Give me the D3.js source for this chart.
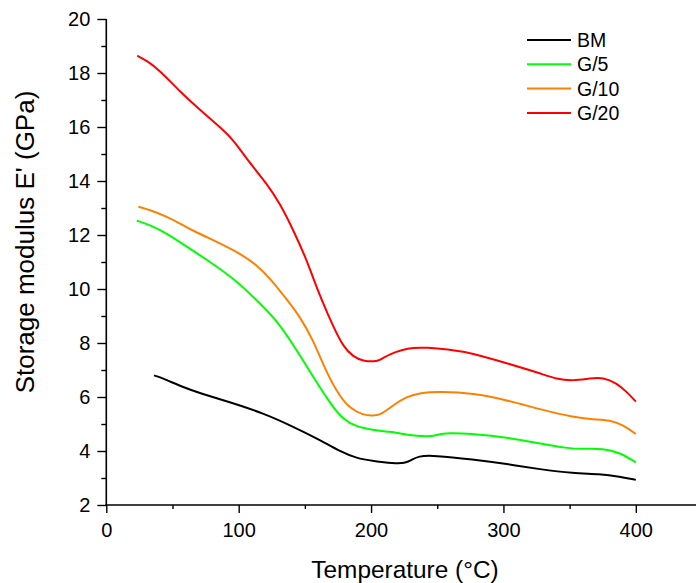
<!DOCTYPE html>
<html>
<head>
<meta charset="utf-8">
<script src="https://cdn.jsdelivr.net/npm/d3@7/dist/d3.min.js"></script>
<style>
html,body{margin:0;padding:0;background:#fff;}
svg{display:block;}
text{font-family:"Liberation Sans",Arial,sans-serif;fill:#000;}
</style>
</head>
<body>
<svg id="chart" width="696" height="583"></svg>
<script>
const seriesNames = ["BM", "G/5", "G/10", "G/20"];
const seriesColors = ["#000000", "#00ff00", "#ff8000", "#ff0000"];

const tempBM = [36, 43, 58, 70.8, 93.4, 118.6, 138.7, 161.4, 176.5, 189.1, 201.7, 216.8, 225.6, 230.7, 235.7, 247, 277.2, 302.4, 327.6, 352.7, 372.9, 388, 400];
const valBM  = [6.80, 6.69, 6.36, 6.14, 5.81, 5.40, 4.96, 4.41, 3.98, 3.73, 3.63, 3.54, 3.54, 3.67, 3.81, 3.84, 3.69, 3.52, 3.32, 3.17, 3.15, 3.05, 2.93];

const tempG5 = [23, 33, 45.6, 60.7, 78.3, 95.9, 113.6, 128.7, 143.8, 156.3, 169, 179, 189.1, 201.7, 211.8, 216.8, 224.3, 231.9, 243.2, 249.5, 257.1, 277.2, 302.4, 327.6, 347.8, 360.3, 375.4, 388, 400];
const valG5  = [12.53, 12.37, 12.06, 11.57, 11.01, 10.40, 9.59, 8.85, 7.74, 6.75, 5.77, 5.15, 4.90, 4.78, 4.71, 4.71, 4.62, 4.57, 4.53, 4.59, 4.68, 4.63, 4.51, 4.28, 4.10, 4.07, 4.10, 3.94, 3.58];

const tempG10 = [24.2, 33, 45.6, 55.7, 65.7, 83.4, 101, 113.6, 123.6, 136.7, 146.3, 156.3, 166.5, 176.5, 184.1, 194.1, 201.7, 208, 216.8, 226.9, 236.9, 252, 277.2, 302.4, 327.6, 352.7, 367.8, 380.4, 390.5, 400];
const valG10  = [13.05, 12.93, 12.68, 12.43, 12.15, 11.75, 11.32, 10.89, 10.40, 9.59, 8.97, 8.11, 6.88, 6.01, 5.58, 5.33, 5.30, 5.36, 5.70, 6.01, 6.16, 6.20, 6.14, 5.89, 5.54, 5.25, 5.17, 5.15, 4.96, 4.63];

const tempG20 = [23.4, 30.5, 40.6, 55.7, 70.8, 88.4, 95.9, 108.5, 121.1, 131.2, 141.2, 151.4, 156.3, 162.7, 171.5, 179, 186.6, 194.1, 203, 206.7, 214.3, 223.1, 231.9, 242, 257.1, 277.2, 302.4, 327.6, 340.2, 352.7, 365.3, 375.4, 385.5, 393, 400];
const valG20  = [18.64, 18.46, 18.09, 17.31, 16.63, 15.89, 15.52, 14.66, 13.91, 13.17, 12.19, 11.07, 10.40, 9.59, 8.60, 7.86, 7.49, 7.33, 7.31, 7.37, 7.59, 7.74, 7.83, 7.83, 7.77, 7.62, 7.25, 6.88, 6.66, 6.60, 6.69, 6.73, 6.51, 6.20, 5.83];

const xTicks = [0, 100, 200, 300, 400];
const yTicks = [2, 4, 6, 8, 10, 12, 14, 16, 18, 20];
const xTitle = "Temperature (°C)";
const yTitle = "Storage modulus E' (GPa)";

const seriesTemps = [tempBM, tempG5, tempG10, tempG20];
const seriesVals = [valBM, valG5, valG10, valG20];

const svg = d3.select("#chart");
const x = d3.scaleLinear().domain([0, 450]).range([106.3, 702]);
const y = d3.scaleLinear().domain([2, 20]).range([505, 19]);

const xMinor = d3.range(50, 450, 100);
const yMinor = d3.range(3, 20, 2);

const gx = svg.append("g").attr("transform", "translate(0,505)");
gx.append("g").call(d3.axisBottom(x).tickValues(xTicks).tickSize(8).tickPadding(9.5).tickFormat(d3.format("d")));
gx.append("g").call(d3.axisBottom(x).tickValues(xMinor).tickSize(4).tickFormat(""));

const gy = svg.append("g").attr("transform", "translate(106.3,0)");
gy.append("g").call(d3.axisLeft(y).tickValues(yTicks).tickSize(9).tickPadding(7).tickFormat(d3.format("d")));
gy.append("g").call(d3.axisLeft(y).tickValues(yMinor).tickSize(5).tickFormat(""));

svg.selectAll(".domain").remove();
gx.append("line").attr("x1", x(0) - 0.8).attr("x2", 702).attr("stroke", "#000").attr("stroke-width", 1.6);
gy.append("line").attr("y1", y(2)).attr("y2", y(20)).attr("stroke", "#000").attr("stroke-width", 1.6);
svg.selectAll(".tick line").attr("stroke", "#000").attr("stroke-width", 1.4);
svg.selectAll(".tick text").style("font-size", "20px").style("font-family", "Liberation Sans, Arial, sans-serif");

svg.append("text").attr("x", 405).attr("y", 578).attr("text-anchor", "middle")
  .style("font-size", "24.4px").text(xTitle);
svg.append("text").attr("transform", "translate(34,242) rotate(-90)").attr("text-anchor", "middle")
  .style("font-size", "26px").text(yTitle);

const line = d3.line().x(d => x(d[0])).y(d => y(d[1])).curve(d3.curveBasis);
seriesNames.forEach((name, i) => {
  const pts = seriesTemps[i].map((t, j) => [t, seriesVals[i][j]]);
  svg.append("path").datum(pts).attr("d", line)
    .attr("fill", "none").attr("stroke", seriesColors[i]).attr("stroke-width", 2);
});

const leg = svg.append("g");
seriesNames.forEach((name, i) => {
  const ly = 40 + i * 24.3;
  leg.append("line").attr("x1", 527).attr("x2", 571).attr("y1", ly).attr("y2", ly)
    .attr("stroke", seriesColors[i]).attr("stroke-width", 2);
  leg.append("text").attr("x", 577).attr("y", ly + 7).style("font-size", "19.5px").text(name);
});
</script>
</body>
</html>
